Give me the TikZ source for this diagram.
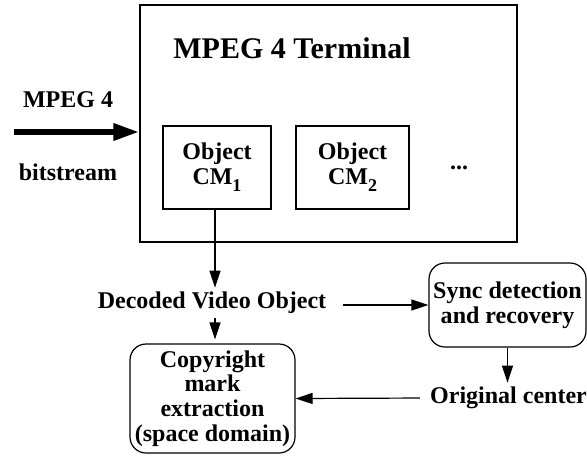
\documentclass[tikz,border=0pt]{standalone}
\usepackage{fontspec}
\setmainfont{Liberation Serif}
\usetikzlibrary{positioning,arrows.meta}

\newcommand{\lowsub}[1]{\raisebox{-3.5pt}{\fontsize{9}{9}\selectfont #1}}

\begin{document}
\begin{tikzpicture}[x=0.5pt,y=-0.5pt,font=\bfseries\fontsize{12}{12.4}\selectfont]
\tikzstyle{element}=[draw,rectangle,line width=0.6pt,align=center,inner sep=0pt]
\tikzstyle{entity}=[draw,rectangle,rounded corners=8pt,line width=0.6pt,align=center,inner sep=0pt]
\tikzstyle{label}=[align=center,inner sep=2pt]
\useasboundingbox (0,0) rectangle (587,455);

\node[element,minimum width=188.5pt,minimum height=118.5pt] (term) at (328.5,123.5) {};
\node[label,font=\bfseries\fontsize{15}{16}\selectfont] (title) at (292,48) {MPEG 4 Terminal};

\node[label] (mpeg) at (68,100) {MPEG 4};
\node[label] (bits) at (68,172) {bitstream};
\coordinate (in) at (14,132);

\node[element,minimum width=54pt,minimum height=41.5pt] (cmone) at (217,167.5) {Object\\CM\lowsub{1}};
\node[element,minimum width=56.5pt,minimum height=41.5pt] (cmtwo) at (352.5,167.5) {Object\\CM\lowsub{2}};
\node[label] (dots) at (459,168) {...};

\node[label] (dec) at (212,303) {Decoded Video Object};
\node[entity,minimum width=82.5pt,minimum height=54.5pt] (cme) at (212.5,398.5) {Copyright\\mark\\extraction\\(space domain)};
\node[entity,minimum width=78.5pt,minimum height=42pt] (sync) at (507.5,305) {Sync detection\\and recovery};
\node[label] (orig) at (508.5,398) {Original center};

\draw[-{Triangle[length=13pt,width=8pt]},line width=3pt] (in) -- (in -| term.west);
\draw[->,>={Triangle[length=8.5pt,width=5.5pt]},line width=0.6pt] (cmone.south -| 215,0) -- (dec.north -| 215,0);
\draw[->,>={Triangle[length=8.5pt,width=5.5pt]},line width=0.6pt] (dec.south -| 215,0) -- ([yshift=2pt]cme.north -| 215,0);
\draw[->,>={Triangle[length=8.5pt,width=5.5pt]},line width=0.6pt,shorten <=6pt] (dec.east |- sync.west) -- (sync.west);
\draw[->,>={Triangle[length=8.5pt,width=5.5pt]},line width=0.6pt] (sync.south) -- (sync.south |- orig.north);
\draw[->,>={Triangle[length=8.5pt,width=5.5pt]},line width=0.6pt,shorten <=3pt] (orig.west) -- (cme.east);
\end{tikzpicture}
\end{document}
